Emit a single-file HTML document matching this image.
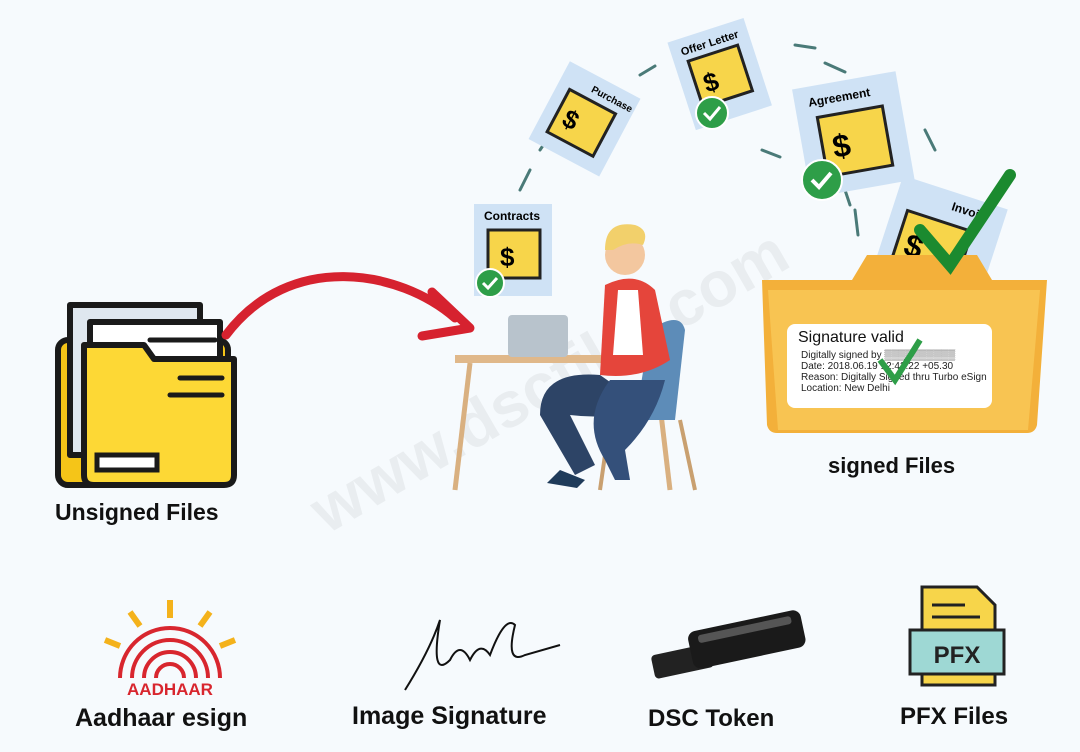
<!DOCTYPE html>
<html><head><meta charset="utf-8"><style>
html,body{margin:0;padding:0;background:#f6fafd;}
svg{display:block;font-family:"Liberation Sans",sans-serif;}
</style></head><body>
<svg width="1080" height="752" viewBox="0 0 1080 752" xmlns="http://www.w3.org/2000/svg">
<rect width="1080" height="752" fill="#f6fafd"/>
<!-- watermark -->
<text x="560" y="400" font-size="64" font-weight="bold" fill="#e9edf0" transform="rotate(-30 560 400)" text-anchor="middle">www.dscfiler.com</text>

<!-- Left folder -->
<g stroke="#1a1a1a" stroke-width="6" stroke-linejoin="round">
<rect x="58" y="340" width="170" height="145" rx="10" fill="#f5c518"/>
<rect x="70" y="305" width="130" height="150" fill="#dfe7ef"/>
<rect x="90" y="322" width="130" height="140" fill="#fff"/>
<path d="M84 345 h60 l10 14 h80 v116 q0 10 -10 10 h-130 q-10 0 -10 -10z" fill="#fdd835"/>
</g>
<g stroke="#1a1a1a" stroke-width="5" stroke-linecap="round">
<line x1="150" y1="340" x2="215" y2="340"/><line x1="180" y1="378" x2="222" y2="378"/><line x1="170" y1="395" x2="222" y2="395"/>
</g>
<rect x="97" y="455" width="60" height="15" fill="#fff" stroke="#1a1a1a" stroke-width="5"/>
<text x="55" y="520" font-size="23" font-weight="bold" fill="#111">Unsigned Files</text>

<!-- red arrow -->
<path d="M226 335 C 290 250, 400 270, 455 318" stroke="#d6222f" stroke-width="9" fill="none" stroke-linecap="round"/>
<path d="M432 292 L470 328 L422 336" stroke="#d6222f" stroke-width="9" fill="none" stroke-linecap="round" stroke-linejoin="round"/>

<!-- dashed trail -->
<g stroke="#4a7a78" stroke-width="3" stroke-linecap="round">
<line x1="520" y1="190" x2="530" y2="170"/><line x1="540" y1="150" x2="550" y2="135"/><line x1="640" y1="75" x2="655" y2="66"/>
<line x1="795" y1="45" x2="815" y2="48"/><line x1="825" y1="63" x2="845" y2="72"/><line x1="762" y1="150" x2="780" y2="157"/>
<line x1="925" y1="130" x2="935" y2="150"/><line x1="855" y1="210" x2="858" y2="235"/><line x1="845" y1="190" x2="850" y2="205"/>
</g>

<!-- docs -->
<g>
<rect x="474" y="204" width="78" height="92" fill="#cfe2f5"/>
<text x="512" y="220" font-size="12" font-weight="bold" text-anchor="middle">Contracts</text>
<rect x="488" y="230" width="52" height="48" fill="#f7d54a" stroke="#222" stroke-width="3"/>
<text x="500" y="266" font-size="26" font-weight="bold">$</text>
<circle cx="490" cy="283" r="14" fill="#2e9e48" stroke="#fff" stroke-width="2"/>
<path d="M483 283 l5 5 l9 -10" stroke="#fff" stroke-width="3" fill="none"/>
</g>
<g transform="rotate(28 585 118)">
<rect x="545" y="75" width="80" height="88" fill="#cfe2f5"/>
<text x="600" y="92" font-size="10" font-weight="bold" text-anchor="middle">Purchase</text>
<rect x="558" y="100" width="52" height="48" fill="#f7d54a" stroke="#222" stroke-width="3"/>
<text x="566" y="135" font-size="26" font-weight="bold">$</text>
</g>
<g transform="rotate(-18 720 75)">
<rect x="680" y="28" width="80" height="92" fill="#cfe2f5"/>
<text x="720" y="45" font-size="11" font-weight="bold" text-anchor="middle">Offer Letter</text>
<rect x="694" y="52" width="52" height="48" fill="#f7d54a" stroke="#222" stroke-width="3"/>
<text x="702" y="88" font-size="26" font-weight="bold">$</text>
</g>
<circle cx="712" cy="113" r="16" fill="#2e9e48" stroke="#fff" stroke-width="2"/>
<path d="M704 113 l6 6 l10 -12" stroke="#fff" stroke-width="3" fill="none"/>
<g transform="rotate(-10 850 130)">
<rect x="800" y="80" width="105" height="110" fill="#cfe2f5"/>
<text x="845" y="100" font-size="12" font-weight="bold" text-anchor="middle">Agreement</text>
<rect x="820" y="112" width="66" height="60" fill="#f7d54a" stroke="#222" stroke-width="3"/>
<text x="830" y="155" font-size="32" font-weight="bold">$</text>
</g>
<circle cx="822" cy="180" r="20" fill="#2e9e48" stroke="#fff" stroke-width="2"/>
<path d="M812 180 l7 7 l12 -14" stroke="#fff" stroke-width="4" fill="none"/>
<g transform="rotate(18 940 240)">
<rect x="885" y="190" width="110" height="120" fill="#cfe2f5"/>
<text x="955" y="208" font-size="12" font-weight="bold" text-anchor="middle">Invoi</text>
<rect x="900" y="222" width="68" height="62" fill="#f7d54a" stroke="#222" stroke-width="3"/>
<text x="908" y="265" font-size="32" font-weight="bold">$</text>
</g>

<!-- right folder -->
<path d="M762 280 h90 l15 -25 h110 l15 25 h55 l-10 145 q-2 8 -10 8 h-250 q-8 0 -10 -8z" fill="#f3b03a"/>
<path d="M768 290 h272 l-12 140 h-250z" fill="#f8c452"/>
<path d="M920 230 l30 35 l60 -90" stroke="#1b8a2f" stroke-width="12" fill="none" stroke-linecap="round"/>
<rect x="787" y="324" width="205" height="84" rx="8" fill="#fff"/>
<text x="798" y="342" font-size="16" fill="#111">Signature valid</text>
<g font-size="10" fill="#222">
<text x="801" y="358">Digitally signed by ▒▒▒▒▒▒▒▒▒▒</text>
<text x="801" y="369">Date: 2018.06.19 12:42:22 +05.30</text>
<text x="801" y="380">Reason: Digitally Signed thru Turbo eSign</text>
<text x="801" y="391">Location: New Delhi</text>
</g>
<path d="M880 360 l15 20 l25 -40" stroke="#2e9e48" stroke-width="6" fill="none"/>
<text x="828" y="473" font-size="22" font-weight="bold" fill="#111">signed Files</text>

<!-- person & desk -->
<g>
<rect x="455" y="355" width="215" height="8" fill="#e0b88a"/>
<line x1="470" y1="363" x2="455" y2="490" stroke="#d9b080" stroke-width="5"/>
<line x1="655" y1="363" x2="670" y2="490" stroke="#d9b080" stroke-width="5"/>
<path d="M650 330 q30 -20 35 0 l-10 90 h-40z" fill="#5d8cb8"/>
<line x1="610" y1="420" x2="600" y2="490" stroke="#c9a070" stroke-width="4"/>
<line x1="680" y1="420" x2="695" y2="490" stroke="#c9a070" stroke-width="4"/>
<path d="M605 285 q30 -15 50 5 l15 70 q-30 20 -70 15z" fill="#e5453b"/>
<path d="M618 290 h20 l5 65 h-30z" fill="#fff"/>
<circle cx="625" cy="255" r="20" fill="#f3c79f"/>
<path d="M605 250 q0 -30 30 -25 q15 5 8 20 q-15 -5 -30 5z" fill="#f2d06b"/>
<rect x="508" y="315" width="60" height="42" rx="4" fill="#b8c3cc"/>
<path d="M600 375 q-60 -5 -60 40 l35 60 l20 -10 l-25 -50 q40 5 80 -5z" fill="#2d4466"/>
<path d="M560 470 l25 10 l-8 8 l-30 -5z" fill="#1f3b5a"/>
<path d="M610 380 q-30 40 -5 80 l10 20 h15 l-5 -30 q30 -30 40 -70z" fill="#34507a"/>
</g>

<!-- bottom icons -->
<g>
<g stroke="#f4b21b" stroke-width="6">
<line x1="170" y1="600" x2="170" y2="618"/><line x1="130" y1="612" x2="140" y2="626"/><line x1="210" y1="612" x2="200" y2="626"/>
<line x1="105" y1="640" x2="120" y2="646"/><line x1="235" y1="640" x2="220" y2="646"/>
</g>
<g fill="none" stroke="#d8262e" stroke-width="4">
<path d="M120 678 a50 50 0 0 1 100 0"/><path d="M132 678 a38 38 0 0 1 76 0"/><path d="M144 678 a26 26 0 0 1 52 0"/><path d="M156 678 a14 14 0 0 1 28 0"/>
</g>
<text x="170" y="695" font-size="17" font-weight="bold" fill="#d8262e" text-anchor="middle">AADHAAR</text>
<text x="75" y="726" font-size="25" font-weight="bold" fill="#111">Aadhaar esign</text>

<path d="M405 690 q25 -40 35 -70 q-10 60 10 40 q10 -20 20 0 q10 -20 20 -5 q15 -40 25 -30 q-10 40 10 30 l35 -10" stroke="#111" stroke-width="2" fill="none"/>
<text x="352" y="724" font-size="25" font-weight="bold" fill="#111">Image Signature</text>

<g transform="rotate(-12 725 645)">
<rect x="650" y="640" width="60" height="24" rx="4" fill="#222"/>
<rect x="690" y="625" width="115" height="38" rx="8" fill="#1a1a1a"/>
<rect x="700" y="630" width="95" height="8" rx="3" fill="#555"/>
</g>
<text x="648" y="726" font-size="24" font-weight="bold" fill="#111">DSC Token</text>

<path d="M922 587 h55 l18 18 v80 h-73z" fill="#f7d54a" stroke="#222" stroke-width="3"/>
<rect x="910" y="630" width="94" height="44" fill="#9ed8d4" stroke="#222" stroke-width="3"/>
<text x="957" y="663" font-size="24" font-weight="bold" text-anchor="middle" fill="#222">PFX</text>
<line x1="932" y1="605" x2="965" y2="605" stroke="#222" stroke-width="3"/>
<line x1="932" y1="617" x2="980" y2="617" stroke="#222" stroke-width="3"/>
<text x="900" y="724" font-size="24" font-weight="bold" fill="#111">PFX Files</text>
</g>
</svg>
</body></html>
